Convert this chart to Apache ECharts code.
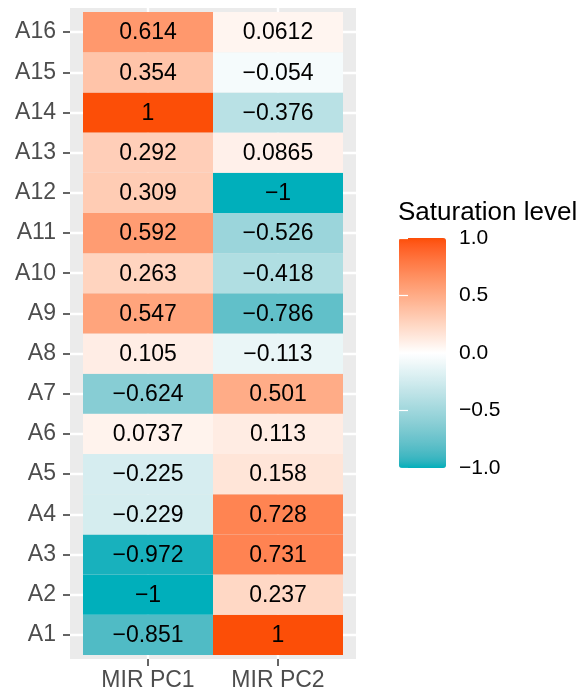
<!DOCTYPE html>
<html>
<head>
<meta charset="utf-8">
<script src="https://cdn.jsdelivr.net/npm/echarts@6/dist/echarts.min.js"></script>
<style>
html,body{margin:0;padding:0;background:#fff;}
#c{width:582px;height:694px;}
</style>
</head>
<body>
<div id="c"></div>
<script>
// ---- data ----
var rows = ['A1','A2','A3','A4','A5','A6','A7','A8','A9','A10','A11','A12','A13','A14','A15','A16'];
var cols = ['MIR PC1','MIR PC2'];
var pc1 = [-0.851, -1, -0.972, -0.229, -0.225, 0.0737, -0.624, 0.105, 0.547, 0.263, 0.592, 0.309, 0.292, 1, 0.354, 0.614];
var pc2 = [1, 0.237, 0.731, 0.728, 0.158, 0.113, 0.501, -0.113, -0.786, -0.418, -0.526, -1, 0.0865, -0.376, -0.054, 0.0612];
var legendTicks = [-1, -0.5, 0, 0.5, 1];
var legendTitle = 'Saturation level';
var lowCol = '#00AFBB', midCol = '#FFFFFF', highCol = '#FC4E07';

var FONT = '"Liberation Sans", Arial, Helvetica, sans-serif';
function minus(s){ return String(s).replace('-', '\u2212'); }

// Lab-space interpolation (like ggplot's scale_fill_gradient2)
function hex2rgb(h){ h = h.replace('#',''); return [0,2,4].map(function(i){ return parseInt(h.substr(i,2),16)/255; }); }
function lin(c){ return c <= 0.04045 ? c/12.92 : Math.pow((c+0.055)/1.055, 2.4); }
function delin(c){ return c <= 0.0031308 ? 12.92*c : 1.055*Math.pow(c, 1/2.4) - 0.055; }
var WN = [0.95047, 1.0, 1.08883];
function rgb2lab(rgb){
  var r = lin(rgb[0]), g = lin(rgb[1]), b = lin(rgb[2]);
  var X = 0.4124564*r + 0.3575761*g + 0.1804375*b;
  var Y = 0.2126729*r + 0.7151522*g + 0.0721750*b;
  var Z = 0.0193339*r + 0.1191920*g + 0.9503041*b;
  function f(t){ return t > 216/24389 ? Math.cbrt(t) : (24389/27*t + 16)/116; }
  var fx = f(X/WN[0]), fy = f(Y/WN[1]), fz = f(Z/WN[2]);
  return [116*fy - 16, 500*(fx - fy), 200*(fy - fz)];
}
function lab2hex(lab){
  var fy = (lab[0] + 16)/116, fx = fy + lab[1]/500, fz = fy - lab[2]/200;
  function fi(t){ return t*t*t > 216/24389 ? t*t*t : (116*t - 16)/(24389/27); }
  var X = fi(fx)*WN[0], Y = fi(fy)*WN[1], Z = fi(fz)*WN[2];
  var r =  3.2404542*X - 1.5371385*Y - 0.4985314*Z;
  var g = -0.9692660*X + 1.8760108*Y + 0.0415560*Z;
  var b =  0.0556434*X - 0.2040259*Y + 1.0572252*Z;
  return '#' + [r,g,b].map(function(c){
    var v = Math.round(Math.max(0, Math.min(1, delin(c)))*255);
    return (v < 16 ? '0' : '') + v.toString(16);
  }).join('');
}
function labRamp(a, b, n){
  var la = rgb2lab(hex2rgb(a)), lb = rgb2lab(hex2rgb(b)), out = [];
  for (var i = 0; i <= n; i++){
    var t = i/n;
    out.push(lab2hex([la[0]+(lb[0]-la[0])*t, la[1]+(lb[1]-la[1])*t, la[2]+(lb[2]-la[2])*t]));
  }
  return out;
}
var rampColors = labRamp(lowCol, midCol, 20).concat(labRamp(midCol, highCol, 20).slice(1));

var cells = [];
[pc1, pc2].forEach(function(arr, ci){
  arr.forEach(function(v, ri){ cells.push([ci + 1, ri + 1, v]); });
});
var colVals = cols.map(function(_, i){ return i + 1; });
var rowVals = rows.map(function(_, i){ return i + 1; });

var chart = echarts.init(document.getElementById('c'), null, {renderer:'canvas'});
chart.setOption({
  animation: false,
  backgroundColor: '#fff',
  title: {
    text: legendTitle, left: 398, top: 200, padding: 0,
    textStyle: {fontFamily: FONT, fontSize: 26, fontWeight: 'normal', color: '#000'}
  },
  grid: [
    {left: 70, top: 8, width: 286, height: 651, show: true, backgroundColor: '#EBEBEB', borderWidth: 0},
    {left: 399, top: 238, width: 47, height: 230, show: false}
  ],
  xAxis: [
    {type: 'value', gridIndex: 0, min: 0.4, max: 2.6, position: 'bottom',
     axisLine: {show: false},
     axisTick: {show: true, customValues: colVals, length: 7, lineStyle: {color: '#333', width: 1.5}},
     axisLabel: {customValues: colVals, formatter: function(v){ return cols[Math.round(v) - 1] || ''; },
                 fontFamily: FONT, fontSize: 23, color: '#4D4D4D', margin: 10},
     splitLine: {show: true, lineStyle: {color: '#fff', width: 2.4}}
    },
    {type: 'value', gridIndex: 1, min: 0, max: 1, show: false}
  ],
  yAxis: [
    {type: 'value', gridIndex: 0, min: 0.4, max: 16.6,
     axisLine: {show: false},
     axisTick: {show: true, customValues: rowVals, length: 7, lineStyle: {color: '#333', width: 1.5}},
     axisLabel: {customValues: rowVals, formatter: function(v){ return rows[Math.round(v) - 1] || ''; },
                 fontFamily: FONT, fontSize: 23, color: '#4D4D4D', margin: 14},
     splitLine: {show: true, lineStyle: {color: '#fff', width: 2.4}}
    },
    {type: 'value', gridIndex: 1, min: -1, max: 1, interval: 0.5, position: 'right', z: 10,
     axisLine: {show: false},
     axisTick: {show: true, inside: true, length: 9, lineStyle: {color: '#fff', width: 1.2}},
     axisLabel: {formatter: function(v){ return minus(v.toFixed(1)); },
                 fontFamily: FONT, fontSize: 21, color: '#000', margin: 13},
     splitLine: {show: false}
    },
    {type: 'value', gridIndex: 1, min: -1, max: 1, interval: 0.5, position: 'left', z: 10,
     axisLine: {show: false},
     axisTick: {show: true, inside: true, length: 9, lineStyle: {color: '#fff', width: 1.2}},
     axisLabel: {show: false},
     splitLine: {show: false}
    }
  ],
  visualMap: {
    type: 'continuous', min: -1, max: 1, seriesIndex: 0, dimension: 2, z: 1,
    calculable: false, hoverLink: false, text: null, showLabel: false,
    left: 399, top: 238, itemWidth: 47, itemHeight: 230, padding: 0,
    inRange: {color: rampColors}
  },
  series: [{
    type: 'custom',
    coordinateSystem: 'cartesian2d',
    xAxisIndex: 0, yAxisIndex: 0,
    data: cells,
    encode: {x: 0, y: 1},
    renderItem: function(params, api){
      var c = api.coord([api.value(0), api.value(1)]);
      var s = api.size([1, 1]);
      return {
        type: 'group',
        children: [
          {type: 'rect', shape: {x: c[0] - s[0]/2, y: c[1] - s[1]/2, width: s[0], height: s[1]},
           style: {fill: api.visual('color')}},
          {type: 'text', x: c[0], y: c[1] + 1,
           style: {text: minus(api.value(2)), fill: '#000', fontFamily: FONT, fontSize: 23,
                   align: 'center', verticalAlign: 'middle'}}
        ]
      };
    }
  }]
});
</script>
</body>
</html>
